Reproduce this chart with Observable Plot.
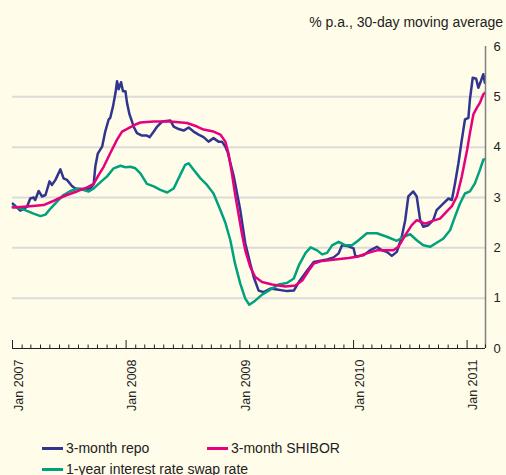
<!DOCTYPE html>
<html>
<head>
<meta charset="utf-8">
<script src="https://cdn.jsdelivr.net/npm/d3@7"></script>
<script src="https://cdn.jsdelivr.net/npm/@observablehq/plot@0.6"></script>
<style>
  html, body { margin: 0; padding: 0; background: #fffce9; }
  #wrap { position: relative; width: 506px; height: 475px; overflow: hidden; background: #fffce9;
          font-family: "Liberation Sans", Arial, Helvetica, sans-serif; color: #222; }
  #chart { position: absolute; left: 0; top: 0; }
  #title { position: absolute; right: 3px; top: 14px; font-size: 14px; white-space: nowrap; }
  .leg { position: absolute; font-size: 14px; white-space: nowrap; line-height: 16px; }
  .sw { display: inline-block; width: 21px; height: 0; border-top: 3px solid; vertical-align: middle; margin-right: 3px; position: relative; top: -1px; }
</style>
</head>
<body>
<div id="wrap">
  <div id="chart"></div>
  <div id="title">% p.a., 30-day moving average</div>
  <div id="legend"></div>
</div>
<script>
// ---- data ----
const seriesNames = ["3-month repo", "3-month SHIBOR", "1-year interest rate swap rate"];
const seriesColors = ["#30358f", "#e6007e", "#00a27e"];
const yTicks = [0, 1, 2, 3, 4, 5, 6];
const yearTicks = ["2007-01-01", "2008-01-01", "2009-01-01", "2010-01-01", "2011-01-01"];
const xDomain = ["2007-01-01", "2011-03-01"];

const repo = [
  ["2007-01-02",2.88],["2007-01-26",2.74],["2007-02-17",2.82],["2007-02-27",2.98],["2007-03-10",3.00],
  ["2007-03-15",2.95],["2007-03-26",3.13],["2007-04-06",3.02],["2007-04-17",3.05],["2007-04-30",3.32],
  ["2007-05-08",3.25],["2007-05-19",3.35],["2007-06-04",3.56],["2007-06-14",3.38],["2007-06-25",3.35],
  ["2007-07-11",3.23],["2007-07-22",3.18],["2007-08-18",3.17],["2007-09-08",3.18],["2007-09-19",3.27],
  ["2007-09-24",3.61],["2007-10-02",3.87],["2007-10-16",4.01],["2007-10-26",4.31],["2007-11-06",4.55],
  ["2007-11-11",4.58],["2007-11-20",4.81],["2007-11-28",5.08],["2007-12-03",5.31],["2007-12-08",5.15],
  ["2007-12-16",5.29],["2007-12-22",5.11],["2007-12-30",5.11],["2008-01-04",4.88],["2008-01-12",4.65],
  ["2008-01-20",4.51],["2008-01-25",4.41],["2008-02-05",4.28],["2008-02-21",4.23],["2008-03-08",4.23],
  ["2008-03-17",4.20],["2008-03-30",4.31],["2008-04-10",4.41],["2008-04-26",4.51],["2008-05-22",4.53],
  ["2008-06-02",4.41],["2008-06-18",4.36],["2008-07-04",4.33],["2008-07-20",4.39],["2008-08-05",4.31],
  ["2008-08-21",4.25],["2008-09-06",4.20],["2008-09-22",4.11],["2008-10-08",4.18],["2008-10-24",4.11],
  ["2008-11-04",4.11],["2008-11-15",4.01],["2008-11-22",3.91],["2008-12-12",3.42],["2009-01-02",2.75],
  ["2009-01-18",2.09],["2009-02-03",1.69],["2009-02-14",1.42],["2009-03-02",1.15],["2009-03-18",1.12],
  ["2009-04-09",1.19],["2009-04-30",1.17],["2009-06-01",1.14],["2009-06-23",1.15],["2009-07-09",1.32],
  ["2009-08-05",1.55],["2009-08-26",1.72],["2009-10-08",1.77],["2009-10-29",1.81],["2009-11-14",1.89],
  ["2009-11-25",2.05],["2009-12-16",2.03],["2010-01-01",1.99],["2010-01-07",1.83],["2010-02-02",1.85],
  ["2010-02-23",1.95],["2010-03-17",2.02],["2010-04-02",1.95],["2010-04-18",1.92],["2010-05-04",1.84],
  ["2010-05-20",1.92],["2010-06-05",2.22],["2010-06-16",2.55],["2010-06-26",3.02],["2010-07-12",3.12],
  ["2010-07-23",3.02],["2010-08-03",2.55],["2010-08-13",2.42],["2010-08-29",2.45],["2010-09-14",2.55],
  ["2010-09-25",2.75],["2010-10-16",2.88],["2010-11-02",2.98],["2010-11-13",2.95],["2010-11-23",3.28],
  ["2010-12-04",3.68],["2010-12-15",4.15],["2010-12-25",4.55],["2011-01-05",4.58],["2011-01-10",4.95],
  ["2011-01-19",5.38],["2011-01-30",5.36],["2011-02-06",5.18],["2011-02-14",5.31],["2011-02-22",5.45],
  ["2011-02-27",5.28]
];

const shibor = [
  ["2007-01-02",2.80],["2007-02-17",2.82],["2007-04-11",2.85],["2007-05-08",2.92],["2007-05-29",2.98],
  ["2007-06-25",3.05],["2007-07-27",3.12],["2007-08-29",3.20],["2007-09-19",3.27],["2007-10-05",3.45],
  ["2007-10-21",3.61],["2007-11-11",3.88],["2007-12-03",4.15],["2007-12-19",4.31],["2008-01-09",4.38],
  ["2008-01-31",4.45],["2008-02-16",4.49],["2008-03-30",4.51],["2008-05-22",4.51],["2008-07-15",4.48],
  ["2008-08-16",4.41],["2008-09-06",4.35],["2008-10-08",4.31],["2008-10-30",4.25],["2008-11-15",4.11],
  ["2008-11-25",3.88],["2008-12-06",3.48],["2008-12-16",3.08],["2008-12-27",2.68],["2009-01-07",2.29],
  ["2009-01-18",1.95],["2009-02-03",1.62],["2009-02-19",1.42],["2009-03-13",1.32],["2009-04-14",1.27],
  ["2009-05-27",1.23],["2009-06-28",1.25],["2009-07-20",1.35],["2009-08-10",1.55],["2009-08-26",1.69],
  ["2009-09-22",1.74],["2009-11-03",1.77],["2009-12-16",1.80],["2010-01-17",1.83],["2010-02-02",1.87],
  ["2010-03-17",1.95],["2010-05-09",1.95],["2010-05-25",2.02],["2010-06-16",2.25],["2010-07-07",2.45],
  ["2010-07-23",2.55],["2010-08-19",2.48],["2010-09-14",2.54],["2010-10-06",2.58],["2010-10-27",2.72],
  ["2010-11-13",2.83],["2010-11-29",3.02],["2010-12-15",3.42],["2011-01-01",3.95],["2011-01-10",4.28],
  ["2011-01-21",4.65],["2011-02-01",4.78],["2011-02-11",4.88],["2011-02-22",5.05],["2011-02-27",5.08]
];

const swap = [
  ["2007-01-02",2.82],["2007-02-06",2.76],["2007-03-10",2.68],["2007-04-01",2.63],["2007-04-17",2.66],
  ["2007-05-03",2.78],["2007-05-24",2.92],["2007-06-14",3.05],["2007-07-06",3.13],["2007-07-27",3.17],
  ["2007-08-18",3.15],["2007-09-03",3.12],["2007-09-19",3.18],["2007-10-10",3.30],["2007-11-01",3.42],
  ["2007-11-22",3.58],["2007-12-14",3.63],["2007-12-30",3.60],["2008-01-15",3.61],["2008-01-31",3.58],
  ["2008-02-16",3.48],["2008-03-08",3.27],["2008-03-30",3.22],["2008-04-20",3.15],["2008-05-12",3.10],
  ["2008-06-02",3.18],["2008-06-23",3.45],["2008-07-09",3.65],["2008-07-20",3.68],["2008-08-05",3.55],
  ["2008-08-27",3.38],["2008-09-17",3.25],["2008-10-08",3.08],["2008-10-30",2.75],["2008-11-15",2.50],
  ["2008-12-01",2.15],["2008-12-16",1.69],["2009-01-02",1.29],["2009-01-18",0.99],["2009-01-31",0.87],
  ["2009-02-19",0.95],["2009-03-13",1.07],["2009-04-14",1.19],["2009-05-05",1.27],["2009-06-01",1.30],
  ["2009-06-23",1.39],["2009-07-09",1.65],["2009-07-31",1.90],["2009-08-16",2.01],["2009-09-06",1.95],
  ["2009-09-22",1.87],["2009-10-08",1.90],["2009-10-24",2.05],["2009-11-14",2.12],["2009-12-06",2.05],
  ["2009-12-27",2.05],["2010-01-17",2.15],["2010-02-13",2.29],["2010-03-17",2.29],["2010-04-18",2.22],
  ["2010-05-20",2.14],["2010-06-11",2.22],["2010-07-02",2.27],["2010-07-23",2.15],["2010-08-13",2.05],
  ["2010-09-04",2.02],["2010-09-25",2.10],["2010-10-16",2.18],["2010-11-07",2.35],["2010-11-23",2.62],
  ["2010-12-09",2.88],["2010-12-25",3.08],["2011-01-10",3.12],["2011-01-26",3.28],["2011-02-11",3.55],
  ["2011-02-22",3.75],["2011-02-27",3.76]
];

// ---- build ----
const toRows = (arr) => arr.map(([d, v]) => ({date: new Date(d), value: v}));
const series = [repo, shibor, swap].map(toRows);
const domain = xDomain.map(d => new Date(d));
const years = yearTicks.map(d => new Date(d));
const months = d3.utcMonth.range(domain[0], new Date(domain[1].getTime() + 864e5)).filter(d => d.getUTCMonth() !== 0);

const plotH = 430, mTop = 46, mBottom = 82;
const frameH = plotH - mTop - mBottom;

const chart = Plot.plot({
  width: 506,
  height: plotH,
  marginTop: mTop,
  marginBottom: mBottom,
  marginLeft: 12,
  marginRight: 21,
  style: {background: "transparent", fontFamily: "'Liberation Sans', Arial, Helvetica, sans-serif", color: "#222"},
  x: {type: "utc", domain},
  y: {domain: [0, 6]},
  marks: [
    Plot.ruleY(yTicks.filter(v => v > 0 && v < 6), {stroke: "#dcdbd7", strokeWidth: 2}),
    Plot.lineY(series[0], {x: "date", y: "value", stroke: seriesColors[0], strokeWidth: 2.5, curve: "linear"}),
    Plot.lineY(series[2], {x: "date", y: "value", stroke: seriesColors[2], strokeWidth: 2.5, curve: "linear"}),
    Plot.lineY(series[1], {x: "date", y: "value", stroke: seriesColors[1], strokeWidth: 2.5, curve: "linear"}),
    Plot.ruleY([0], {stroke: "#222", strokeWidth: 1}),
    Plot.ruleX([domain[1]], {stroke: "#808080", strokeWidth: 1.5}),
    Plot.ruleX(months, {stroke: "#222", strokeWidth: 1, insetTop: frameH - 3.5}),
    Plot.ruleX(years, {stroke: "#222", strokeWidth: 1, insetTop: frameH - 8}),
    Plot.axisX({ticks: years, tickSize: 0, tickPadding: 11, tickRotate: -90, tickFormat: d3.utcFormat("%b %Y"),
                fontSize: 12.5, dx: 6, label: null}),
    Plot.axisY({anchor: "right", ticks: yTicks, tickSize: 0, tickPadding: 8, fontSize: 13, label: null,
                tickFormat: d => String(d)})
  ]
});
document.getElementById("chart").appendChild(chart);

// legend
const legendPos = [[42, 440], [207, 440], [42, 461]];
const leg = document.getElementById("legend");
seriesNames.forEach((name, i) => {
  const el = document.createElement("div");
  el.className = "leg";
  el.style.left = legendPos[i][0] + "px";
  el.style.top = legendPos[i][1] + "px";
  el.innerHTML = `<span class="sw" style="border-color:${seriesColors[i]}"></span>${name}`;
  leg.appendChild(el);
});
</script>
</body>
</html>
